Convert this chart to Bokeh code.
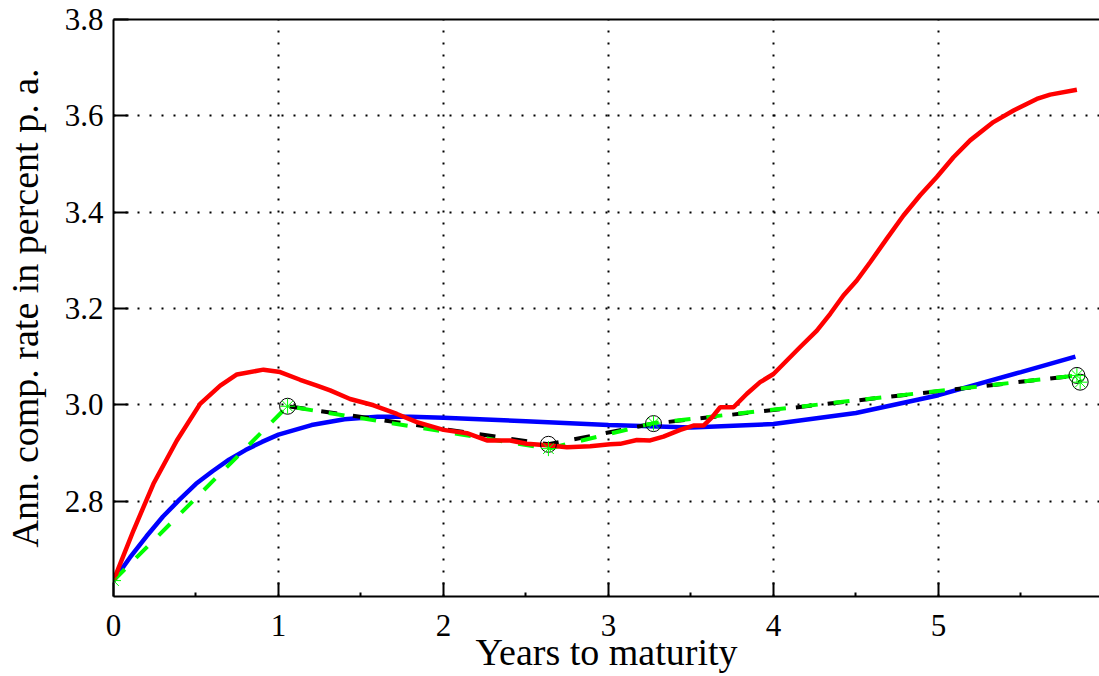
import math
from bokeh.plotting import figure
from bokeh.models import Range1d, FixedTicker, PrintfTickFormatter, LinearAxis
from bokeh.embed import file_html
from bokeh.resources import INLINE

# ---------------- data ----------------
red_x = [0.0, 0.121, 0.242, 0.384, 0.525, 0.647, 0.748, 0.909, 1.010, 1.131, 1.233, 1.313,
         1.434, 1.576, 1.718, 1.839, 2.000, 2.142, 2.263, 2.404, 2.505, 2.627, 2.748, 2.889,
         3.010, 3.071, 3.172, 3.253, 3.333, 3.435, 3.515, 3.576, 3.627, 3.677, 3.758, 3.839,
         3.919, 4.000, 4.081, 4.162, 4.263, 4.344, 4.424, 4.505, 4.586, 4.687, 4.788, 4.889,
         4.990, 5.091, 5.192, 5.333, 5.455, 5.596, 5.677, 5.839]
red_y = [2.635, 2.739, 2.836, 2.926, 3.002, 3.040, 3.063, 3.073, 3.068, 3.052, 3.040, 3.030,
         3.012, 2.999, 2.981, 2.964, 2.948, 2.941, 2.926, 2.926, 2.919, 2.916, 2.912, 2.914,
         2.918, 2.919, 2.927, 2.926, 2.934, 2.948, 2.957, 2.957, 2.974, 2.995, 2.995, 3.023,
         3.047, 3.064, 3.092, 3.120, 3.154, 3.189, 3.227, 3.258, 3.296, 3.345, 3.393, 3.435,
         3.473, 3.514, 3.549, 3.587, 3.611, 3.635, 3.644, 3.654]

blue_x = [0.0, 0.1, 0.2, 0.3, 0.4, 0.5, 0.6, 0.7, 0.8, 0.9, 1.0, 1.2, 1.4, 1.6, 1.8, 2.0,
          2.5, 3.0, 3.5, 4.0, 4.5, 5.0, 5.5, 5.83]
blue_y = [2.635, 2.683, 2.727, 2.768, 2.803, 2.836, 2.862, 2.886, 2.906, 2.923, 2.938, 2.958,
          2.970, 2.975, 2.975, 2.973, 2.966, 2.958, 2.953, 2.960, 2.983, 3.020, 3.068, 3.100]

obs_x = [0.0, 1.055, 2.636, 3.273, 5.839, 5.859]
obs_y = [2.635, 2.997, 2.909, 2.962, 3.061, 3.047]

fit_x = [1.055, 2.636, 3.273, 5.839, 5.859]
fit_y = [2.997, 2.918, 2.961, 3.061, 3.047]

x_ticks = [0, 1, 2, 3, 4, 5]
x_minor = [0.5, 1.5, 2.5, 3.5, 4.5, 5.5]
y_ticks = [2.8, 3.0, 3.2, 3.4, 3.6, 3.8]
x_label = "Years to maturity"
y_label = "Ann. comp. rate in percent p. a."

FONT = "Liberation Serif"
RED = "#ff0000"
BLUE = "#0000ff"
GREEN = "#00ff00"

p = figure(width=1099, height=676,
           x_range=Range1d(0, 5.976), y_range=Range1d(2.602, 3.8),
           output_backend="svg", toolbar_location=None,
           min_border_left=113, min_border_right=0,
           min_border_top=19, min_border_bottom=80)
p.outline_line_color = None
p.background_fill_color = "white"
p.border_fill_color = "white"

xa = p.xaxis[0]
xa.ticker = FixedTicker(ticks=x_ticks, minor_ticks=x_minor)
ya = p.yaxis[0]
ya.ticker = FixedTicker(ticks=y_ticks, minor_ticks=[])
ya.formatter = PrintfTickFormatter(format="%.1f")

for ax in (xa, ya):
    ax.axis_line_color = "black"
    ax.axis_line_width = 2
    ax.major_tick_line_color = "black"
    ax.major_tick_line_width = 2
    ax.minor_tick_line_color = "black"
    ax.minor_tick_line_width = 2
    ax.major_tick_out = 0
    ax.minor_tick_out = 0
    ax.major_label_text_font = FONT
    ax.major_label_text_font_size = "31px"
    ax.major_label_text_color = "black"
    ax.axis_label_text_font = FONT
    ax.axis_label_text_font_size = "38px"
    ax.axis_label_text_font_style = "normal"
    ax.axis_label_text_color = "black"
xa.major_tick_in = 14
xa.minor_tick_in = 4
xa.major_label_standoff = 18
xa.axis_label = x_label
xa.axis_label_standoff = -8
ya.major_tick_in = 15
ya.minor_tick_in = 0
ya.major_label_standoff = 10
ya.axis_label = y_label
ya.axis_label_standoff = 16

top = LinearAxis(ticker=FixedTicker(ticks=[], minor_ticks=[]),
                 axis_line_color="black", axis_line_width=2,
                 major_tick_in=0, major_tick_out=0, minor_tick_in=0, minor_tick_out=0,
                 major_label_text_font_size="0px", major_label_standoff=0)
p.add_layout(top, "above")

p.grid.grid_line_color = "black"
p.grid.grid_line_dash = "2 10"
p.grid.grid_line_width = 2

# curves
p.line(blue_x, blue_y, line_color=BLUE, line_width=4.5)
p.line(fit_x, fit_y, line_color="black", line_width=4, line_dash="16 16", line_dash_offset=30)
p.line(obs_x, obs_y, line_color=GREEN, line_width=4, line_dash="16 16")
p.line(red_x, red_y, line_color=RED, line_width=4.5)
p.scatter(fit_x, fit_y, marker="circle", size=16, fill_color=None,
          line_color="black", line_width=1)
p.scatter(obs_x, obs_y, marker="asterisk", size=15, line_color=GREEN, line_width=1)

open("out.html", "w").write(file_html(p, INLINE))
